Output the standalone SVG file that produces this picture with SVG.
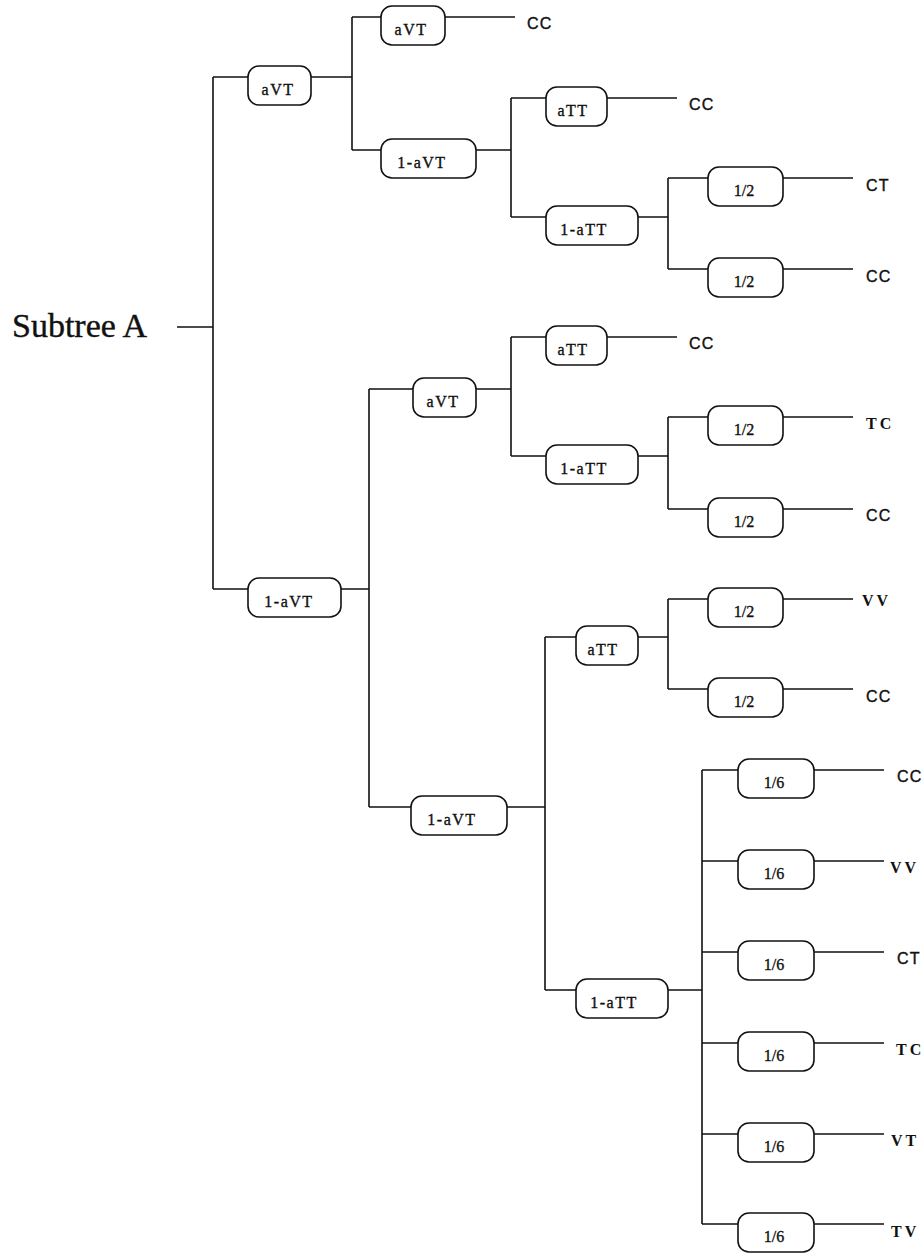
<svg xmlns="http://www.w3.org/2000/svg" width="924" height="1254" viewBox="0 0 924 1254">
<style>
.c{fill:none;stroke:#111;stroke-width:1.6}
.b{fill:#fff;stroke:#111;stroke-width:1.6}
.t{font-family:"Liberation Serif","Times New Roman",serif;font-size:16px;fill:#111;stroke:#111;stroke-width:0.35;text-anchor:middle}
.ts{letter-spacing:1.5px}
.ls{font-family:"Liberation Sans",Arial,sans-serif;font-size:16px;letter-spacing:1.2px;fill:#111;stroke:#111;stroke-width:0.4}
.lr{font-family:"Liberation Serif","Times New Roman",serif;font-size:16px;font-weight:bold;letter-spacing:3px;fill:#111}
</style>
<rect width="924" height="1254" fill="#fff"/>
<text x="12" y="337" font-family="Liberation Serif,'Times New Roman',serif" font-size="34" fill="#111" stroke="#111" stroke-width="0.4">Subtree A</text>
<g id="connectors" class="c">
<path d="M177 327H213M213 77V589M213 77H248M213 589H248"/>
<path d="M311 77H352M352 17V150M352 17H381M352 150H381"/>
<path d="M445 17H515"/>
<path d="M476 150H511M511 98V217M511 98H546M511 217H546"/>
<path d="M607 98H677"/>
<path d="M638 217H668M668 178V269M668 178H708M668 269H708"/>
<path d="M783 178H853M783 269H853"/>
<path d="M341 589H369M369 389V807M369 389H413M369 807H411"/>
<path d="M476 389H511M511 337V456M511 337H546M511 456H546"/>
<path d="M607 337H677"/>
<path d="M638 456H668M668 417V509M668 417H708M668 509H708"/>
<path d="M783 417H853M783 509H853"/>
<path d="M507 807H545M545 637V990M545 637H576M545 990H576"/>
<path d="M638 637H668M668 599V689M668 599H708M668 689H708"/>
<path d="M783 599H853M783 689H853"/>
<path d="M668 990H702M702 770V1224M702 770H738M702 861H738M702 952H738M702 1043H738M702 1134H738M702 1224H738"/>
<path d="M814 770H884M814 861H884M814 952H884M814 1043H884M814 1134H884M814 1224H884"/>
</g>
<g id="n1"><rect class="b" x="248" y="66" width="63" height="39" rx="11"/><text class="t ts" x="278" y="95">aVT</text></g>
<g id="n2"><rect class="b" x="248" y="578" width="93" height="39" rx="11"/><text class="t ts" x="289" y="607">1-aVT</text></g>
<g id="n3"><rect class="b" x="381" y="6" width="64" height="39" rx="11"/><text class="t ts" x="411" y="35">aVT</text></g>
<g id="n4"><rect class="b" x="381" y="139" width="95" height="39" rx="11"/><text class="t ts" x="422" y="168">1-aVT</text></g>
<g id="n5"><rect class="b" x="413" y="378" width="63" height="39" rx="11"/><text class="t ts" x="443" y="407">aVT</text></g>
<g id="n6"><rect class="b" x="411" y="796" width="96" height="39" rx="11"/><text class="t ts" x="452" y="825">1-aVT</text></g>
<g id="n7"><rect class="b" x="546" y="87" width="61" height="39" rx="11"/><text class="t ts" x="573" y="116">aTT</text></g>
<g id="n8"><rect class="b" x="546" y="206" width="92" height="39" rx="11"/><text class="t ts" x="584" y="235">1-aTT</text></g>
<g id="n9"><rect class="b" x="546" y="326" width="61" height="39" rx="11"/><text class="t ts" x="573" y="355">aTT</text></g>
<g id="n10"><rect class="b" x="546" y="445" width="92" height="39" rx="11"/><text class="t ts" x="584" y="474">1-aTT</text></g>
<g id="n11"><rect class="b" x="576" y="626" width="62" height="39" rx="11"/><text class="t ts" x="603" y="655">aTT</text></g>
<g id="n12"><rect class="b" x="576" y="979" width="92" height="39" rx="11"/><text class="t ts" x="614" y="1008">1-aTT</text></g>
<g id="n13"><rect class="b" x="708" y="167" width="75" height="39" rx="11"/><text class="t" x="744" y="196">1/2</text></g>
<g id="n14"><rect class="b" x="708" y="258" width="75" height="39" rx="11"/><text class="t" x="744" y="287">1/2</text></g>
<g id="n15"><rect class="b" x="708" y="406" width="75" height="39" rx="11"/><text class="t" x="744" y="435">1/2</text></g>
<g id="n16"><rect class="b" x="708" y="498" width="75" height="39" rx="11"/><text class="t" x="744" y="527">1/2</text></g>
<g id="n17"><rect class="b" x="708" y="588" width="75" height="39" rx="11"/><text class="t" x="744" y="617">1/2</text></g>
<g id="n18"><rect class="b" x="708" y="678" width="75" height="39" rx="11"/><text class="t" x="744" y="707">1/2</text></g>
<g id="n19"><rect class="b" x="738" y="759" width="76" height="39" rx="11"/><text class="t" x="774" y="788">1/6</text></g>
<g id="n20"><rect class="b" x="738" y="850" width="76" height="39" rx="11"/><text class="t" x="774" y="879">1/6</text></g>
<g id="n21"><rect class="b" x="738" y="941" width="76" height="39" rx="11"/><text class="t" x="774" y="970">1/6</text></g>
<g id="n22"><rect class="b" x="738" y="1032" width="76" height="39" rx="11"/><text class="t" x="774" y="1061">1/6</text></g>
<g id="n23"><rect class="b" x="738" y="1123" width="76" height="39" rx="11"/><text class="t" x="774" y="1152">1/6</text></g>
<g id="n24"><rect class="b" x="738" y="1213" width="76" height="39" rx="11"/><text class="t" x="774" y="1242">1/6</text></g>
<g id="leaves">
<text class="ls" x="527" y="29">CC</text>
<text class="ls" x="689" y="110">CC</text>
<text class="ls" x="866" y="191">CT</text>
<text class="ls" x="866" y="282">CC</text>
<text class="ls" x="689" y="349">CC</text>
<text class="lr" x="866" y="429">TC</text>
<text class="ls" x="866" y="521">CC</text>
<text class="lr" x="862" y="606">VV</text>
<text class="ls" x="866" y="702">CC</text>
<text class="ls" x="897" y="782">CC</text>
<text class="lr" x="890" y="873">VV</text>
<text class="ls" x="897" y="964">CT</text>
<text class="lr" x="896" y="1055">TC</text>
<text class="lr" x="891" y="1146">VT</text>
<text class="lr" x="891" y="1237">TV</text>
</g>
</svg>
